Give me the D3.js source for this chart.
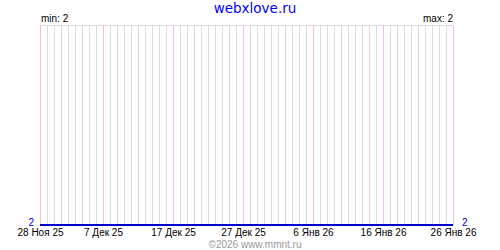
<!DOCTYPE html>
<html>
<head>
<meta charset="utf-8">
<script src="https://cdn.jsdelivr.net/npm/d3@7"></script>
<style>
  body { margin: 0; background: #fff; }
  svg { display: block; }
</style>
</head>
<body>
<div id="chart"></div>
<script>
var title = "webxlove.ru";
var footer = "\u00a92026 www.mmnt.ru";
var startDate = "2025-11-28";
var endDate = "2026-01-26";
var tickDates = ["2025-11-28", "2025-12-07", "2025-12-17", "2025-12-27", "2026-01-06", "2026-01-16", "2026-01-26"];
var tickLabels = ["28 Ноя 25", "7 Дек 25", "17 Дек 25", "27 Дек 25", "6 Янв 26", "16 Янв 26", "26 Янв 26"];
// one value per day, 28 Nov 25 .. 26 Jan 26
var values = [2, 2, 2, 2, 2, 2, 2, 2, 2, 2,
              2, 2, 2, 2, 2, 2, 2, 2, 2, 2,
              2, 2, 2, 2, 2, 2, 2, 2, 2, 2,
              2, 2, 2, 2, 2, 2, 2, 2, 2, 2,
              2, 2, 2, 2, 2, 2, 2, 2, 2, 2,
              2, 2, 2, 2, 2, 2, 2, 2, 2, 2];

var width = 500, height = 250;
var margin = {top: 25, right: 47, bottom: 25, left: 40};
var parse = d3.utcParse("%Y-%m-%d");
var font = "'Liberation Sans', Arial, sans-serif";

var svg = d3.select("#chart").append("svg")
    .attr("width", width)
    .attr("height", height);

var x = d3.scaleUtc()
    .domain([parse(startDate), parse(endDate)])
    .range([margin.left, width - margin.right]);

var minV = d3.min(values), maxV = d3.max(values);
var y = d3.scaleLinear()
    .domain(minV === maxV ? [minV, minV + 1] : [minV, maxV])
    .range([height - margin.bottom, margin.top]);

var ticks = tickDates.map(parse);

// daily grid
svg.append("g")
    .selectAll("line")
    .data(d3.utcDay.range(x.domain()[0], d3.utcDay.offset(x.domain()[1], 1)))
  .join("line")
    .attr("x1", function (d) { return Math.round(x(d)) + 0.5; })
    .attr("x2", function (d) { return Math.round(x(d)) + 0.5; })
    .attr("y1", margin.top)
    .attr("y2", height - margin.bottom)
    .attr("stroke", function (d) {
        return ticks.some(function (t) { return +t === +d; }) ? "#ffc0c0" : "#dcdcdc";
    });

// top border
svg.append("line")
    .attr("x1", margin.left + 1).attr("x2", width - margin.right + 1)
    .attr("y1", margin.top + 0.5).attr("y2", margin.top + 0.5)
    .attr("stroke", "#dcdcdc");

// series
var line = d3.line()
    .x(function (d, i) { return Math.round(x(d3.utcDay.offset(parse(startDate), i))); })
    .y(function (d) { return Math.round(y(d)); });

svg.append("path")
    .datum(values)
    .attr("fill", "none")
    .attr("stroke", "#0000cc")
    .attr("stroke-width", 2)
    .attr("d", line);

// x axis labels
var xAxis = d3.axisBottom(x)
    .tickValues(ticks)
    .tickSize(0)
    .tickPadding(4)
    .tickFormat(function (d, i) { return tickLabels[i]; });

svg.append("g")
    .attr("transform", "translate(0," + (height - margin.bottom) + ")")
    .call(xAxis)
    .call(function (g) { g.select(".domain").remove(); })
    .selectAll("text")
    .attr("font-family", font)
    .attr("font-size", 10)
    .attr("fill", "#000");

// end values
svg.append("text")
    .attr("x", margin.left - 6)
    .attr("y", y(values[0]) + 1)
    .attr("text-anchor", "end")
    .attr("font-family", font)
    .attr("font-size", 10)
    .attr("fill", "#0000cc")
    .text(values[0]);

svg.append("text")
    .attr("x", width - margin.right + 9)
    .attr("y", y(values[values.length - 1]) + 1)
    .attr("font-family", font)
    .attr("font-size", 10)
    .attr("fill", "#0000cc")
    .text(values[values.length - 1]);

// min / max
svg.append("text")
    .attr("x", margin.left + 1)
    .attr("y", margin.top - 3)
    .attr("font-family", font)
    .attr("font-size", 10)
    .text("min: " + minV);

svg.append("text")
    .attr("x", width - margin.right)
    .attr("y", margin.top - 3)
    .attr("text-anchor", "end")
    .attr("font-family", font)
    .attr("font-size", 10)
    .text("max: " + maxV);

// title and footer
svg.append("text")
    .attr("x", 255)
    .attr("y", 13)
    .attr("text-anchor", "middle")
    .attr("font-family", "'DejaVu Sans', Verdana, sans-serif")
    .attr("font-size", 13.5)
    .attr("fill", "#0000ff")
    .text(title);

svg.append("text")
    .attr("x", 255)
    .attr("y", 248)
    .attr("text-anchor", "middle")
    .attr("font-family", font)
    .attr("font-size", 10)
    .attr("fill", "#999")
    .text(footer);
</script>
</body>
</html>
